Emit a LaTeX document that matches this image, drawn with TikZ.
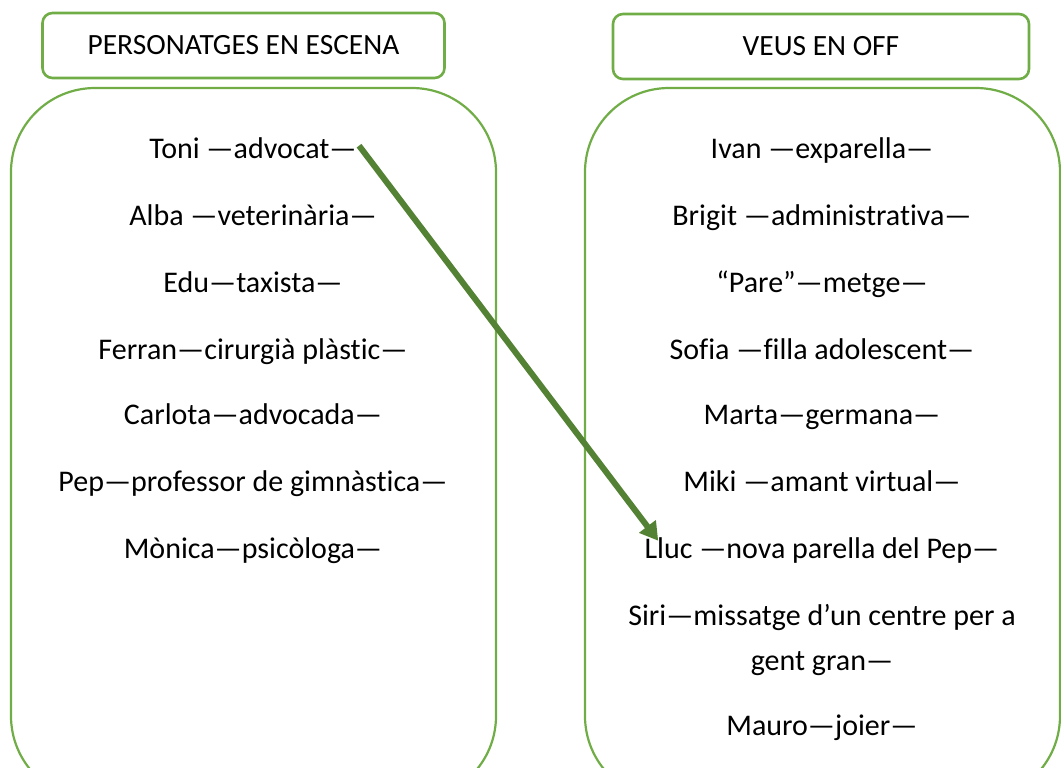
\documentclass[tikz,border=0pt]{standalone}
\usepackage{fontspec}
\setmainfont[Ligatures={NoCommon}]{Carlito}
\usepackage{xcolor}
\usepackage{tikz}
\usetikzlibrary{positioning,arrows.meta}
\definecolor{boxgreen}{HTML}{70AD47}
\definecolor{arrowgreen}{HTML}{548235}

\begin{document}
\begin{tikzpicture}[x=0.5pt,y=-0.5pt,
  title/.style={draw=boxgreen,line width=1.3pt,rounded corners=5pt,minimum width=201pt,minimum height=32.5pt,font=\fontsize{14.7}{17}\selectfont},
  who/.style={inner sep=0pt,anchor=base,font=\fontsize{15}{22.5}\selectfont,align=center}]
\def\leftbox{(11,88) rectangle (496,800)}
  \def\rightbox{(585,88) rectangle (1060,800)}
  \useasboundingbox (0,0) rectangle (1061,767);
  \clip (0,0) rectangle (1061,767);
      \draw[boxgreen,line width=1.1pt,rounded corners=42pt] \leftbox;
      \draw[boxgreen,line width=1.1pt,rounded corners=42pt] \rightbox;
      \node[title] (escena) at (243.5,45.5) {PERSONATGES EN ESCENA};
      \node[title,minimum width=208pt] (off) at (821,46.5) {VEUS EN OFF};
      % personatges en escena
      \node[who] (toni) at (253,158) {Toni —advocat—};
      \node[who] (alba) at (253,225) {Alba —veterinària—};
      \node[who] (edu) at (253,292) {Edu—taxista—};
      \node[who] (ferran) at (253,359) {Ferran—cirurgià plàstic—};
      \node[who] (carlota) at (253,424) {Carlota—advocada—};
      \node[who] (pep) at (253,491) {Pep—professor de gimnàstica—};
      \node[who] (monica) at (253,558) {Mònica—psicòloga—};
      % veus en off
      \node[who] (ivan) at (822,158) {Ivan —exparella—};
      \node[who] (brigit) at (822,225) {Brigit —administrativa—};
      \node[who] (pare) at (822,292) {“Pare”—metge—};
      \node[who] (sofia) at (822,359) {Sofia —filla adolescent—};
      \node[who] (marta) at (822,424) {Marta—germana—};
      \node[who] (miki) at (822,491) {Miki —amant virtual—};
      \node[who] (lluc) at (822,558) {Lluc —nova parella del Pep—};
      \node[who] (siri) at (822,670) {Siri—missatge d’un centre per a\\gent gran—};
      \node[who] (mauro) at (822,735) {Mauro—joier—};
      \draw[arrowgreen,line width=3pt,-{Triangle[length=9pt,width=10pt]}] ([xshift=1pt,yshift=1pt]toni.east) -- ([xshift=7pt,yshift=-2pt]lluc.north west);
\end{tikzpicture}
\end{document}
